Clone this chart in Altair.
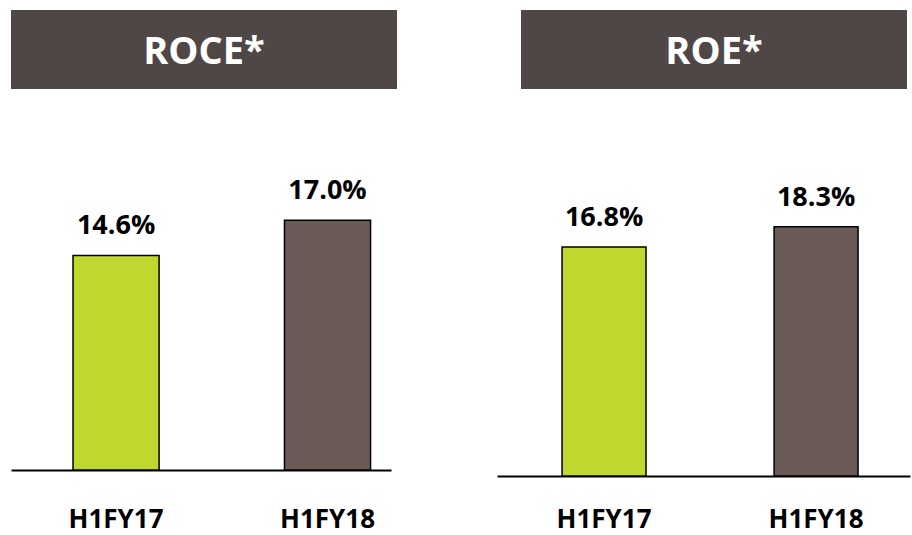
import altair as alt
import pandas as pd

# Reporting periods and the two return ratios (in %)
periods = ["H1FY17", "H1FY18"]
roce = [14.6, 17.0]
roe = [16.8, 18.3]
panel_titles = ["ROCE*", "ROE*"]

bar_colors = ["#c0d72f", "#6b5b57"]
header_color = "#4f4745"
FONT = "Open Sans"


def panel(title, values, width, height, ymax, box_x, box_x2,
          pad_outer, pad_inner, align, label_pad):
    df = pd.DataFrame({
        "period": periods,
        "value": values,
        "label": [f"{v:.1f}%" for v in values],
    })
    x = alt.X(
        "period:N", sort=periods, title=None,
        scale=alt.Scale(paddingInner=pad_inner, paddingOuter=pad_outer, align=align),
        axis=alt.Axis(domainColor="black", domainWidth=2, ticks=False, tickSize=0,
                      labelAngle=0, labelFont=FONT, labelFontSize=26,
                      labelFontWeight="bold", labelColor="black",
                      labelPadding=label_pad, grid=False),
    )
    y = alt.Y("value:Q", scale=alt.Scale(domain=[0, ymax]), axis=None)
    base = alt.Chart(df)
    bars = base.mark_bar(stroke="black", strokeWidth=1.5).encode(
        x=x, y=y,
        color=alt.Color("period:N", scale=alt.Scale(domain=periods, range=bar_colors),
                        legend=None),
    )
    labels = base.mark_text(font=FONT, fontSize=27, fontWeight="bold", color="black",
                            baseline="alphabetic", dy=-21).encode(
        x=x, y=y, text="label:N")

    # Header band with the panel title
    head_df = pd.DataFrame({"title": [title]})
    head = alt.Chart(head_df).mark_rect(color=header_color).encode(
        x=alt.value(box_x), x2=alt.value(box_x2), y=alt.value(0), y2=alt.value(79))
    head_text = alt.Chart(head_df).mark_text(
        font=FONT, fontSize=38, fontWeight="bold", color="white",
        align="center", baseline="alphabetic").encode(
        x=alt.value((box_x + box_x2) / 2), y=alt.value(54), text="title:N")
    return alt.layer(head, head_text, bars, labels).properties(width=width, height=height)


left = panel(panel_titles[0], roce, 380, 460, 31.3, 0, 386, 0.195, 0.593, 0.752, 36)
right = panel(panel_titles[1], roe, 413, 466, 34.2, 24, 410, 0.276, 0.604, 0.556, 30)

chart = (
    alt.hconcat(left, right, spacing=106, bounds="flush")
    .properties(padding={"left": 11, "top": 10, "right": 2, "bottom": 0})
    .configure_view(stroke=None)
)

chart.save("out.html", embed_options={"renderer": "svg", "actions": False})
